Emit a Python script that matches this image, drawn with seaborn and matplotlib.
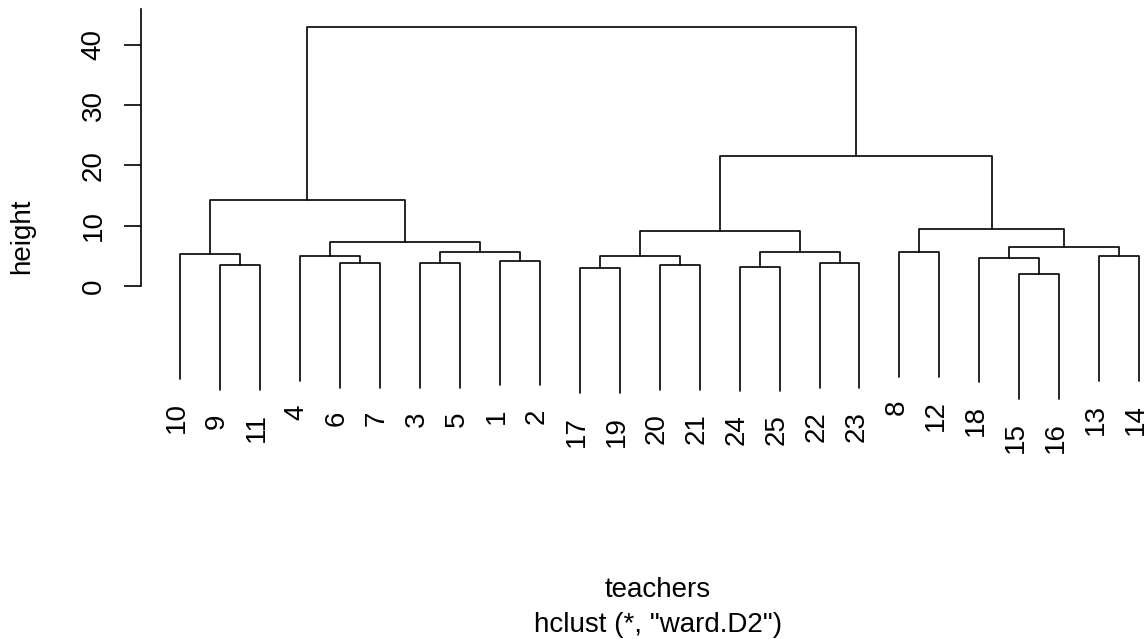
import matplotlib
matplotlib.use("Agg")
import matplotlib.pyplot as plt
import matplotlib.transforms as mtransforms
import seaborn as sns
import pandas as pd
import numpy as np

# ---- data ----
leaf_order = [10, 9, 11, 4, 6, 7, 3, 5, 1, 2, 17, 19, 20, 21, 24, 25, 22, 23,
              8, 12, 18, 15, 16, 13, 14]
leaf_labels = [str(v) for v in leaf_order]
# R-style merge matrix: negative = leaf (teacher id), positive = earlier merge (1-based)
merge_left = [-15, -17, -24, -9, -20, -6, -3, -22, -1, -18, -4, 2, -13, -10, -8,
              7, 3, 10, 11, 12, 15, 14, 20, 22]
merge_right = [-16, -19, -25, -11, -21, -7, -5, -23, -2, 1, 6, 5, -14, 4, -12,
               9, 8, 13, 16, 17, 18, 19, 21, 23]
merge_height = [1.99, 2.94, 3.20, 3.44, 3.44, 3.77, 3.77, 3.77, 4.20, 4.70, 4.93,
                4.93, 4.93, 5.31, 5.64, 5.69, 5.64, 6.42, 7.35, 9.13, 9.41, 14.22,
                21.63, 43.04]
y_ticks = [0, 10, 20, 30, 40]

HANG = 20.7       # label hang below parent merge
LABEL_GAP = 3.82  # gap between leaf end and label

# ---- build segments ----
leaf_x = {leaf: i + 1 for i, leaf in enumerate(leaf_order)}
node_x = {}
rows = []
leaf_ends = {}
for k, (l, r, h) in enumerate(zip(merge_left, merge_right, merge_height), start=1):
    pts = []
    for child in (l, r):
        if child < 0:
            cx = leaf_x[-child]
            cy = h - HANG
            leaf_ends[-child] = cy
        else:
            cx = node_x[child]
            cy = merge_height[child - 1]
        pts.append((cx, cy))
    (xl, yl), (xr, yr) = pts
    node_x[k] = (xl + xr) / 2
    for j, (px, py) in enumerate([(xl, yl), (xl, h), (xr, h), (xr, yr)]):
        rows.append({"seg": k, "order": j, "x": px, "y": py})
df = pd.DataFrame(rows)

# ---- plot ----
sns.set_theme(style="white")
plt.rcParams["font.family"] = ["Liberation Sans", "DejaVu Sans"]

W, H = 1147, 639
fig = plt.figure(figsize=(W / 100, H / 100), dpi=100)
pxu = 6.025
y0_pix = 286
ax_left_pix = 141
ax = fig.add_axes([ax_left_pix / W, 0, (W - ax_left_pix) / W, 1])

sns.lineplot(data=df, x="x", y="y", units="seg", estimator=None, sort=False,
             color="black", linewidth=1.2, ax=ax)

leaf_pix = 39.97
ax.set_xlim(1 - (180 - ax_left_pix) / leaf_pix, 1 + (W - 180) / leaf_pix)
ax.set_ylim(-(H - y0_pix) / pxu, y0_pix / pxu)

label_tr = mtransforms.offset_copy(ax.transData, fig=fig, x=-2.2, y=0, units="points")
for leaf in leaf_order:
    ax.text(leaf_x[leaf], leaf_ends[leaf] - LABEL_GAP, str(leaf), rotation=90,
            ha="center", va="top", fontsize=20, color="black", transform=label_tr)

for s in ["top", "right", "bottom"]:
    ax.spines[s].set_visible(False)
ax.spines["left"].set_visible(True)
ax.spines["left"].set_color("black")
ax.spines["left"].set_linewidth(1.2)
ax.spines["left"].set_bounds(0, 46)
ax.set_xticks([])
ax.set_yticks(y_ticks)
ax.set_yticklabels([str(t) for t in y_ticks], rotation=90, va="center")
ax.tick_params(axis="y", direction="out", length=12.2, width=1.2, pad=12.5,
               labelsize=20, colors="black", left=True)
ax.set_xlabel("")
ax.set_ylabel("")
ax.patch.set_alpha(0)
ax.grid(False)

fig.text(22.5 / W, 1 - 236 / H, "height", rotation=90, ha="center", va="center",
         fontsize=20, color="black")
fig.text(658 / W, 1 - 597 / H, "teachers", ha="center", va="baseline",
         fontsize=20, color="black")
fig.text(658 / W, 1 - 632 / H, 'hclust (*, "ward.D2")', ha="center", va="baseline",
         fontsize=20, color="black")

fig.savefig("out.png", dpi=100, facecolor="white")
